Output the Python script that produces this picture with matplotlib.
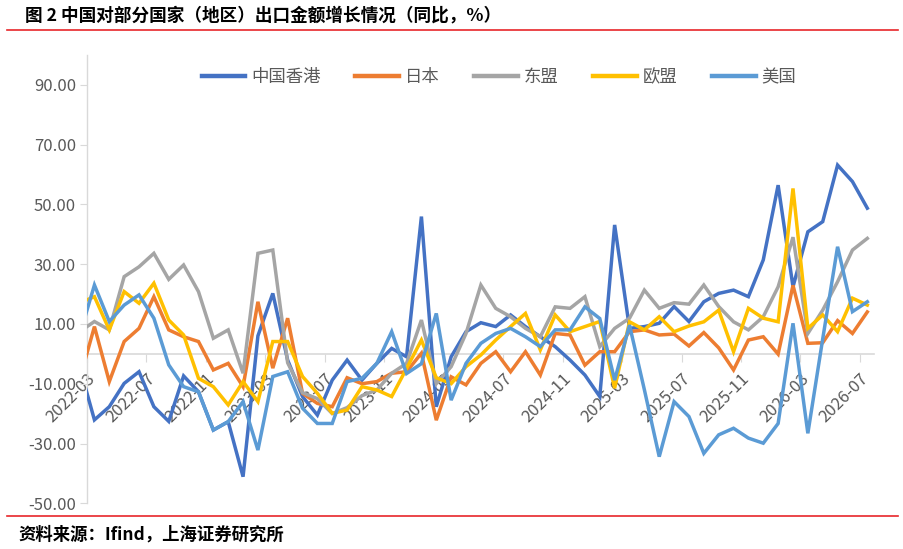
import matplotlib
matplotlib.use("Agg")
import matplotlib.pyplot as plt
from matplotlib.lines import Line2D
import numpy as np
import pandas as pd

plt.rcParams['font.family'] = ['Noto Sans CJK SC', 'DejaVu Sans']

# monthly data; first month (2022-02) falls just left of the axis and is clipped
months = [str(p) for p in pd.period_range('2022-02', '2026-07', freq='M')]

hk = [-4.3, -22.1, -17.7, -9.9, -6.0, -17.7, -22.6, -7.4, -12.7, -25.5, -22.7, -41.1, 6.0, 20.2,
      -2.1, -14.3, -20.5, -8.8, -2.1, -8.8, -3.2, 1.8, -1.0, 45.9, -17.7, -1.0, 7.4, 10.4, 9.1,
      13.0, 9.1, 5.7, 2.4, -2.1, -7.1, -14.3, 43.1, 8.5, 9.1, 10.2, 15.8, 10.8, 17.4, 20.2, 21.3,
      19.1, 31.4, 56.4, 22.4, 40.8, 44.2, 63.1, 57.6, 48.7]
japan = [-8.7, 9.1, -9.3, 4.1, 8.5, 19.1, 8.0, 5.7, 4.1, -5.4, -3.2, -11.0, 17.4, -4.8, 11.9,
         -13.2, -16.6, -17.7, -8.0, -10.0, -9.3, -6.5, -6.0, 0.2, -22.2, -7.7, -10.4, -3.2, 0.7,
         -6.0, 0.7, -7.1, 6.8, 6.3, -3.8, 0.7, 0.7, 7.4, 8.0, 6.3, 6.6, 2.6, 7.1, 2.0, -5.4, 4.6,
         5.7, -0.1, 22.9, 3.5, 3.7, 11.1, 6.8, 14.0]
asean = [7.4, 10.8, 8.0, 25.8, 29.1, 33.6, 24.9, 29.7, 20.8, 5.2, 8.0, -6.5, 33.6, 34.7, -3.0,
         -13.0, -15.0, -20.0, -18.0, -14.0, -12.1, -6.5, -3.2, 11.3, -10.0, -4.3, 6.8, 23.0, 15.2,
         12.4, 8.5, 5.7, 15.7, 15.2, 19.1, 2.4, 8.5, 11.9, 21.3, 15.2, 17.1, 16.6, 23.0, 15.8,
         10.7, 8.0, 12.4, 22.4, 39.0, 6.8, 14.6, 24.1, 34.7, 38.6]
eu = [17.0, 19.1, 8.0, 20.8, 16.9, 23.6, 11.3, 6.3, -8.2, -11.0, -17.1, -9.3, -16.0, 4.1, 4.1,
      -7.6, -13.2, -19.9, -18.8, -11.0, -12.1, -14.3, -4.9, 4.6, -8.0, -10.0, -4.3, -0.4, 4.6,
      9.1, 13.5, 1.3, 13.0, 7.4, 9.1, 10.8, -11.5, 10.7, 8.0, 12.4, 7.4, 9.3, 10.7, 14.6, 0.7,
      15.2, 11.9, 10.7, 55.3, 8.5, 13.0, 7.4, 18.6, 16.3]
usa = [6.2, 23.0, 10.8, 16.3, 19.7, 11.9, -3.7, -11.0, -12.7, -25.5, -22.7, -16.0, -32.2, -7.6,
       -6.0, -18.2, -23.3, -23.3, -9.3, -8.2, -3.2, 7.4, -6.6, -3.3, 13.5, -15.5, -3.2, 3.5, 6.8,
       8.5, 5.7, 2.4, 8.0, 8.0, 15.7, 11.8, -8.8, 9.6, -12.0, -34.4, -16.0, -21.0, -33.3, -27.1,
       -24.9, -28.2, -29.9, -23.3, 10.2, -26.6, 5.0, 35.8, 14.1, 17.4]

series_names = ['中国香港', '日本', '东盟', '欧盟', '美国']
series_values = [hk, japan, asean, eu, usa]
colors = ['#4472C4', '#ED7D31', '#A5A5A5', '#FFC000', '#5B9BD5']

xtick_labels = ['2022-03', '2022-07', '2022-11', '2023-03', '2023-07', '2023-11', '2024-03',
                '2024-07', '2024-11', '2025-03', '2025-07', '2025-11', '2026-03', '2026-07']
ytick_values = [-50, -30, -10, 10, 30, 50, 70, 90]
ytick_labels = ['-50.00', '-30.00', '-10.00', '10.00', '30.00', '50.00', '70.00', '90.00']

W, H = 904, 549
fig = plt.figure(figsize=(W / 100, H / 100), dpi=100)
ax = fig.add_axes([87 / W, 1 - 503.3 / H, (874 - 87) / W, (503.3 - 54.8) / H])

for s in ['top', 'right']:
    ax.spines[s].set_visible(False)
ax.spines['bottom'].set_position(('data', 0))
ax.spines['left'].set_color('#D9D9D9')
ax.spines['bottom'].set_color('#D9D9D9')
ax.spines['left'].set_linewidth(1.0)
ax.spines['bottom'].set_linewidth(1.2)

# each month is centred half a month after its tick
x = np.arange(len(months)) - 1 + 0.5
for name, vals, c in zip(series_names, series_values, colors):
    ax.plot(x, vals, color=c, lw=2.5, label=name, zorder=3, solid_joinstyle='miter')

ax.set_xlim(0, 52.95)
ax.set_ylim(-50, 100)

tick_pos = [months.index(m) - 1 for m in xtick_labels]
ax.set_xticks(tick_pos)
ax.set_xticklabels(xtick_labels, rotation=45, ha='right', va='top',
                   rotation_mode='anchor', color='#595959', fontsize=12)
ax.set_yticks(ytick_values)
ax.set_yticklabels(ytick_labels, color='#595959', fontsize=12)

ax.tick_params(axis='x', length=6, color='#D9D9D9', pad=6)
ax.tick_params(axis='y', length=5, color='#D9D9D9', pad=3)
ax.set_axisbelow(True)

leg = fig.legend(loc='center', bbox_to_anchor=(499 / W, 1 - 77 / H), ncol=5, frameon=False,
                 fontsize=12.5, handlelength=2.5, handletextpad=0.35, columnspacing=2.0)
for t in leg.get_texts():
    t.set_color('#595959')
for h in leg.legend_handles:
    h.set_linewidth(3.2)

fig.text(25 / W, 1 - 15 / H, '图 2 中国对部分国家（地区）出口金额增长情况（同比，%）',
         fontsize=12.7, fontweight='bold', color='black', va='center', ha='left')
fig.text(18 / W, 1 - 535 / H, '资料来源：Ifind，上海证券研究所',
         fontsize=12.5, fontweight='bold', color='black', va='center', ha='left')

fig.add_artist(Line2D([7 / W, 898 / W], [1 - 29.5 / H] * 2, transform=fig.transFigure,
                      color='#E8262A', lw=1.2))
fig.add_artist(Line2D([7 / W, 898 / W], [1 - 516 / H] * 2, transform=fig.transFigure,
                      color='#E8262A', lw=1.2))

fig.savefig('out.png', dpi=100)
